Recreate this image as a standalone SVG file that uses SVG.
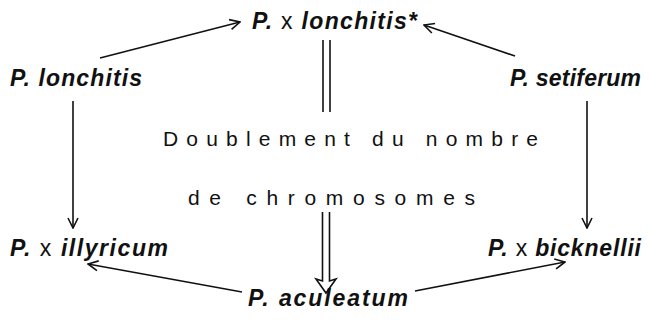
<svg xmlns="http://www.w3.org/2000/svg" width="649" height="323" viewBox="0 0 649 323">
<defs>
<style>
.sp{font-family:"Liberation Sans",Arial,sans-serif;font-weight:bold;font-style:italic;font-size:23px;fill:#111}
.x{font-style:normal;font-weight:normal}
.mid{font-family:"Liberation Sans",Arial,sans-serif;font-size:21px;fill:#111}
.ln{stroke:#111;stroke-width:1.6;fill:none}
</style>
<marker id="ah" viewBox="0 0 12 12" refX="11" refY="6" markerWidth="12" markerHeight="12" markerUnits="userSpaceOnUse" orient="auto">
<path d="M1,1 L11,6 L1,11" fill="none" stroke="#111" stroke-width="1.6"/>
</marker>
</defs>
<rect width="649" height="323" fill="#fff"/>
<g id="connectors">
<line class="ln" x1="100" y1="58" x2="240" y2="22" marker-end="url(#ah)"/>
<line class="ln" x1="515" y1="56" x2="424" y2="25" marker-end="url(#ah)"/>
<line class="ln" x1="73" y1="101" x2="73" y2="228" marker-end="url(#ah)"/>
<line class="ln" x1="587" y1="101" x2="587" y2="228" marker-end="url(#ah)"/>
<line class="ln" x1="242" y1="292" x2="88" y2="264" marker-end="url(#ah)"/>
<line class="ln" x1="415" y1="291" x2="565" y2="262" marker-end="url(#ah)"/>
<line class="ln" x1="323" y1="40" x2="323" y2="112"/>
<line class="ln" x1="330" y1="40" x2="330" y2="112"/>
<path class="ln" d="M322.5,212 V281 L316,279 L326,293 L336,279 L329.5,281 V212"/>
</g>
<g id="hybrid-top"><text class="sp" x="252" y="29" textLength="165" lengthAdjust="spacing">P. <tspan class="x">x</tspan> lonchitis*</text></g>
<g id="lonchitis"><text class="sp" x="10" y="86" textLength="132" lengthAdjust="spacing">P. lonchitis</text></g>
<g id="setiferum"><text class="sp" x="510" y="86" textLength="131" lengthAdjust="spacing">P. setiferum</text></g>
<g id="illyricum"><text class="sp" x="10" y="256" textLength="158" lengthAdjust="spacing">P. <tspan class="x">x</tspan> illyricum</text></g>
<g id="bicknellii"><text class="sp" x="488" y="256" textLength="153" lengthAdjust="spacing">P. <tspan class="x">x</tspan> bicknellii</text></g>
<g id="aculeatum"><text class="sp" x="248" y="306" textLength="160" lengthAdjust="spacing">P. aculeatum</text></g>
<g id="label">
<text class="mid" x="163" y="146" textLength="375" lengthAdjust="spacing">Doublement du nombre</text>
<text class="mid" x="188" y="205" textLength="287" lengthAdjust="spacing">de chromosomes</text>
</g>
</svg>
